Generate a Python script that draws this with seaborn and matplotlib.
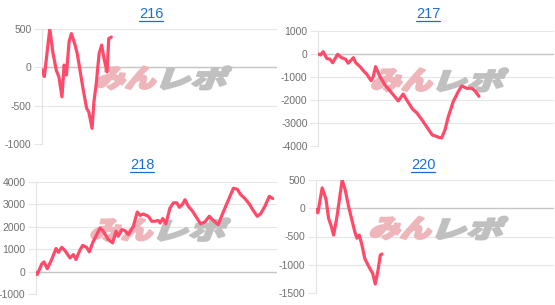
import matplotlib
matplotlib.use("Agg")
import matplotlib.pyplot as plt
import seaborn as sns
import pandas as pd
from matplotlib.textpath import TextPath
from matplotlib.patches import PathPatch
from matplotlib.transforms import Affine2D
from matplotlib.font_manager import FontProperties
from matplotlib.lines import Line2D

# ---------------- data ----------------
titles = ["216", "217", "218", "220"]

x216 = [0, 1.0, 3.3, 4.7, 6.1, 7.2, 8.5, 9.4, 10.4, 11.5, 12.5, 13.9, 15.0, 16.5, 17.7,
        19.0, 19.9, 21.3, 22.1, 23.1, 24.3, 25.4, 26.4, 27.7, 28.4, 29.5]
y216 = [-30, -120, 500, 180, -40, -125, -385, 30, -100, 330, 440, 310, 180, -100, -320,
        -535, -580, -795, -450, -210, 180, 290, 115, -60, 375, 395]

x217 = [0, 1.1, 2.2, 3.7, 5.1, 6.2, 8.3, 10.0, 11.7, 12.8, 15.0, 16.0, 17.8, 19.2, 20.6,
        22.5, 23.4, 24.4, 26.3, 28.4, 30.5, 32.6, 34.0, 36.1, 37.6, 40.1, 41.8, 43.9, 46.5,
        48.4, 49.9, 51.0, 52.4, 53.8, 55.2, 57.3, 59.4, 60.9, 63.0, 65.1, 66.5, 68.2]
y217 = [0, -40, 100, -190, -230, -380, -15, -160, -230, -400, -160, -380, -550, -725, -870,
        -1160, -990, -550, -990, -1350, -1600, -1860, -2040, -1740, -2000, -2400, -2550,
        -2840, -3230, -3520, -3570, -3620, -3650, -3300, -2730, -2070, -1640, -1390, -1490,
        -1490, -1600, -1840]

x218 = [0, 0.5, 2.4, 3.3, 4.7, 6.5, 8.3, 9.3, 10.7, 12.0, 14.1, 15.5, 16.6, 18.3, 19.4,
        21.0, 22.1, 23.5, 24.5, 26.6, 27.7, 28.6, 30.0, 31.8, 33.2, 34.1, 35.6, 36.9, 38.3,
        40.4, 42.0, 43.2, 44.5, 46.6, 48.0, 49.4, 50.7, 51.5, 52.6, 53.9, 55.6, 57.0, 58.4,
        59.5, 60.9, 61.8, 63.2, 65.0, 66.7, 68.3, 70.1, 71.9, 73.6, 75.6, 76.8, 78.4, 80.2,
        81.9, 83.5, 84.9, 86.7, 88.5, 90.2, 91.8, 93.2, 95.0, 96.8, 98.2]
y218 = [-30, -130, 340, 430, 130, 540, 1030, 860, 1085, 940, 610, 760, 540, 980, 1170,
        1085, 880, 1280, 1500, 1950, 1830, 1680, 1430, 1280, 1800, 1580, 1875, 1830, 1650,
        2020, 2660, 2510, 2570, 2470, 2250, 2250, 2280, 2170, 2370, 2130, 2840, 3070, 3070,
        2870, 3020, 3210, 2920, 2690, 2400, 2130, 2220, 2470, 2280, 2100, 2420, 2840, 3290,
        3720, 3680, 3440, 3260, 3020, 2720, 2470, 2580, 2920, 3360, 3260]

x220 = [0, 0.8, 2.6, 4.2, 5.3, 6.4, 7.4, 8.8, 9.8, 11.0, 12.3, 13.7, 15.1, 16.3, 17.2,
        18.2, 19.3, 20.5, 21.8, 22.8, 23.8, 24.9, 26.1, 27.0, 27.7]
y220 = [-20, -80, 360, 160, -180, -315, -475, -150, 145, 500, 320, 30, -210, -415, -530,
        -475, -650, -890, -1000, -1080, -1150, -1340, -1090, -830, -810]

yticks216 = [-1000, -500, 0, 500]
yticks217 = [-4000, -3000, -2000, -1000, 0, 1000]
yticks218 = [-1000, 0, 1000, 2000, 3000, 4000]
yticks220 = [-1500, -1000, -500, 0, 500]

# ---------------- style ----------------
sns.set_theme(style="white")
plt.rcParams["font.family"] = ["Liberation Sans", "DejaVu Sans"]

W, H = 555, 305
fig = plt.figure(figsize=(W / 100, H / 100), dpi=100)

LINE = "#ff4a6a"
GRID = "#e6e6e6"
ZERO = "#c6c6c6"
TICKC = "#707070"
TITLEC = "#1c6fd1"


def rect(l, r, t, b):
    return [l / W, (H - b) / H, (r - l) / W, (b - t) / H]


wm_font = FontProperties(family="Noto Sans CJK JP", weight="black")


def add_mark(ax, text, box, color):
    tp = TextPath((0, 0), text, size=1, prop=wm_font)
    p = Affine2D().skew_deg(14, 0).transform_path(tp)
    ext = p.get_extents()
    x0, y0, x1, y1 = box
    t = (Affine2D().translate(-ext.x0, -ext.y0)
         .scale((x1 - x0) / ext.width, (y1 - y0) / ext.height)
         .translate(x0, y0))
    ax.add_patch(PathPatch(t.transform_path(p), transform=ax.transAxes,
                           facecolor=color, edgecolor=color, lw=1.6,
                           joinstyle="round", zorder=1.5))


panels = [
    (titles[0], x216, y216, yticks216, rect(42, 277, 29, 144), (151, 13.7)),
    (titles[1], x217, y217, yticks217, rect(318, 554, 31, 146), (428, 14.3)),
    (titles[2], x218, y218, yticks218, rect(36, 277, 182, 294), (142, 165.3)),
    (titles[3], x220, y220, yticks220, rect(316, 554, 180, 293), (423, 165.3)),
]

title_texts = []
for title, xs, ys, yt, r, tpos in panels:
    ax = fig.add_axes(r)
    df = pd.DataFrame({"x": xs, "y": ys})
    sns.lineplot(data=df, x="x", y="y", ax=ax, color=LINE, lw=2.3, zorder=3)
    ax.set_xlim(0, 100)
    ax.set_ylim(yt[0], yt[-1])
    ax.set_yticks(yt)
    ax.set_yticklabels([str(v) for v in yt])
    ax.set_xticks([])
    ax.set_xlabel("")
    ax.set_ylabel("")
    for s in ["top", "right", "bottom"]:
        ax.spines[s].set_visible(False)
    ax.spines["left"].set_color("#e2e2e2")
    ax.spines["left"].set_linewidth(0.8)
    ax.grid(axis="y", color=GRID, lw=0.8)
    ax.axhline(0, color=ZERO, lw=1.0, zorder=1.2)
    ax.tick_params(axis="y", left=True, length=6, width=0.8, color=GRID,
                   pad=1.5, labelsize=7.5, labelcolor=TICKC)
    add_mark(ax, "みん", (0.23, 0.475, 0.485, 0.675), "#eeb6bb")
    add_mark(ax, "レポ", (0.505, 0.475, 0.805, 0.675), "#c0c0c0")
    t = fig.text(tpos[0] / W, 1 - tpos[1] / H, title, ha="center", va="center",
                 fontsize=10.5, color=TITLEC)
    title_texts.append((t, tpos))

fig.canvas.draw()
renderer = fig.canvas.get_renderer()
for t, tpos in title_texts:
    bb = t.get_window_extent(renderer)
    yline = 1 - (tpos[1] + 7.0) / H
    fig.add_artist(Line2D([bb.x0 / W, bb.x1 / W], [yline, yline],
                          transform=fig.transFigure, color=TITLEC, lw=0.9))

fig.savefig("out.png", dpi=100)
